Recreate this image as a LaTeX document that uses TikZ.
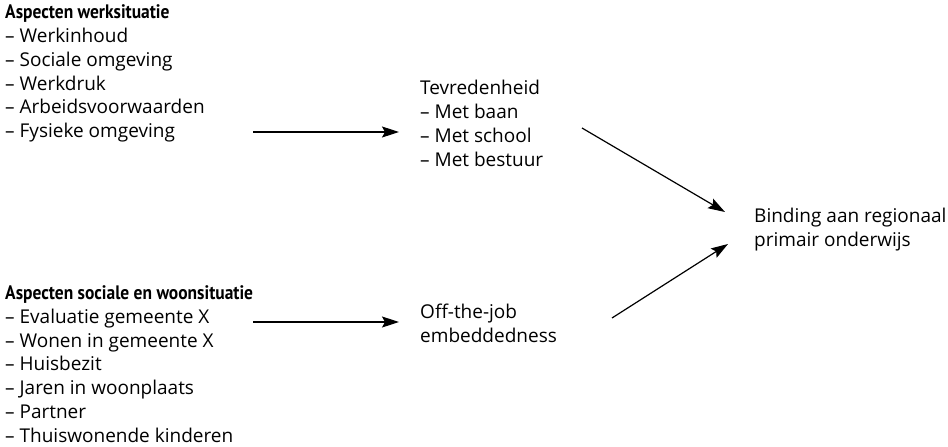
\documentclass[tikz,border=0pt]{standalone}
\usepackage{graphicx}
\usepackage{fontspec}
\setmainfont{Open Sans}
\newfontfamily\headfamily{PT Sans}
\newcommand\headtext[1]{\scalebox{0.895}[1]{\headfamily\bfseries\fontsize{19.5pt}{23.8pt}\selectfont #1}}
\newcommand\topstrut{\rule{0pt}{16pt}}
\usetikzlibrary{arrows.meta}
\begin{document}
\begin{tikzpicture}[x=1pt,y=-1pt,
  txt/.style={anchor=north west, inner sep=0pt, align=left,
    font=\fontsize{19pt}{23.8pt}\selectfont},
  arr/.style={line width=1.2pt, -{Stealth[length=17pt,width=11pt,inset=3pt]}}]
\useasboundingbox (0,0) rectangle (948,447);
% first baseline = y + 16
\node[txt] (work) at (5,2.5) {\topstrut\headtext{Aspecten werksituatie}\\– Werkinhoud\\– Sociale omgeving\\– Werkdruk\\– Arbeidsvoorwaarden\\– Fysieke omgeving};
\node[txt] (tev) at (420,78.5) {\topstrut Tevredenheid\\– Met baan\\– Met school\\– Met bestuur};
\node[txt] (bind) at (754,206) {\topstrut Binding aan regionaal\\primair onderwijs};
\node[txt] (soc) at (5,283.2) {\topstrut\headtext{Aspecten sociale en woonsituatie}\\– Evaluatie gemeente X\\– Wonen in gemeente X\\– Huisbezit\\– Jaren in woonplaats\\– Partner\\– Thuiswonende kinderen};
\node[txt] (off) at (420,302.5) {\topstrut Off-the-job\\embeddedness};
\coordinate (a1s) at (253,132);
\coordinate (a1e) at (399,132);
\coordinate (a2s) at (582,128);
\coordinate (a2e) at (725,212);
\coordinate (a3s) at (253,322);
\coordinate (a3e) at (399,322);
\coordinate (a4s) at (612,318);
\coordinate (a4e) at (728,244);
\draw[arr] (a1s) -- (a1e);
\draw[arr] (a2s) -- (a2e);
\draw[arr] (a3s) -- (a3e);
\draw[arr] (a4s) -- (a4e);
\end{tikzpicture}
\end{document}
